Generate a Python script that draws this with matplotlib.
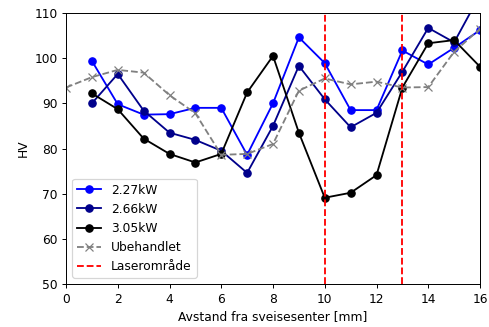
import matplotlib
matplotlib.use("Agg")
import matplotlib.pyplot as plt

x = [1, 2, 3, 4, 5, 6, 7, 8, 9, 10, 11, 12, 13, 14, 15, 16]
hv_227 = [99.4, 89.8, 87.5, 87.6, 89.0, 89.0, 78.6, 90.0, 104.6, 98.9, 88.5, 88.5, 101.7, 98.6, 102.3, 106.2]
hv_266 = [90.0, 96.5, 88.4, 83.5, 81.9, 79.5, 74.6, 85.0, 98.3, 90.9, 84.7, 87.9, 97.0, 106.7, 103.5, 114.0]
hv_305 = [92.2, 88.7, 82.2, 78.8, 76.9, 78.8, 92.4, 100.5, 83.5, 69.1, 70.2, 74.1, 93.5, 103.3, 104.0, 98.1]
x_ub = [0, 1, 2, 3, 4, 5, 6, 7, 8, 9, 10, 11, 12, 13, 14, 15, 16]
hv_ub = [93.5, 95.8, 97.4, 96.8, 91.8, 87.8, 78.6, 78.8, 81.0, 92.8, 95.5, 94.2, 94.8, 93.5, 93.6, 101.4, 106.5]
laser = [10, 13]

DPI = 88
fig = plt.figure(figsize=(489/DPI, 327/DPI), dpi=DPI)
ax = fig.add_axes([66/489, 1-284/327, (480-66)/489, (284-13)/327])

ax.plot(x, hv_227, '-o', color='blue', label='2.27kW')
ax.plot(x, hv_266, '-o', color='darkblue', label='2.66kW')
ax.plot(x, hv_305, '-o', color='black', label='3.05kW')
ax.plot(x_ub, hv_ub, '--x', color='grey', label='Ubehandlet')
ax.axvline(laser[0], color='red', linestyle='--', label='Laserområde')
ax.axvline(laser[1], color='red', linestyle='--')

ax.set_xlim(0, 16)
ax.set_ylim(50, 110)
ax.set_xticks(range(0, 17, 2))
ax.set_yticks(range(50, 111, 10))
ax.set_xlabel('Avstand fra sveisesenter [mm]')
ax.set_ylabel('HV')
ax.legend(loc='lower left')

fig.savefig('out.png', dpi=DPI)
